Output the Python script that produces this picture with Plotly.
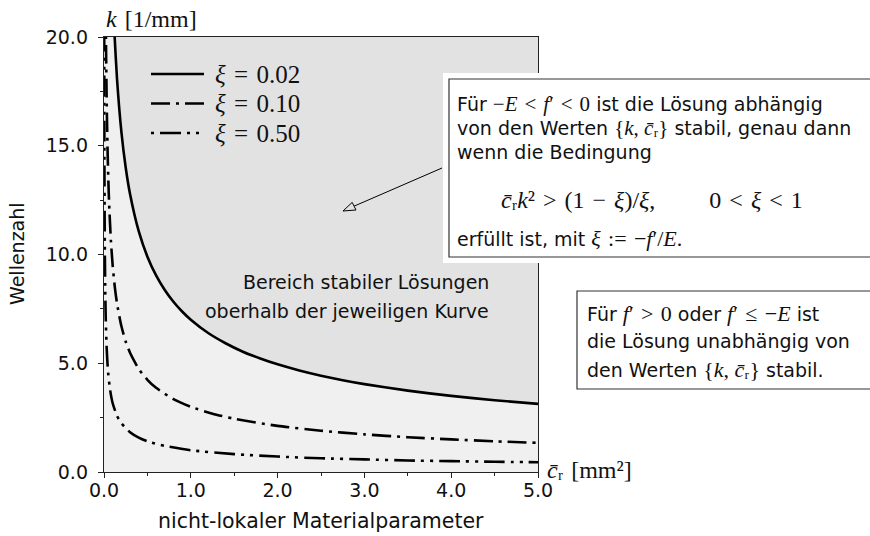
import plotly.graph_objects as go

# Stability limit k(c_r) for three values of xi
c_xi002 = [0.10, 0.12, 0.15, 0.20, 0.25, 0.30, 0.40, 0.50, 0.60, 0.70, 0.80, 0.90, 1.00,
           1.20, 1.40, 1.60, 1.80, 2.00, 2.25, 2.50, 2.75, 3.00, 3.50, 4.00, 4.50, 5.00]
k_xi002 = [22.14, 20.21, 18.07, 15.65, 14.00, 12.78, 11.07, 9.90, 9.04, 8.37, 7.83, 7.38, 7.00,
           6.39, 5.92, 5.53, 5.22, 4.95, 4.67, 4.43, 4.22, 4.04, 3.74, 3.50, 3.30, 3.13]

c_xi010 = [0.020, 0.025, 0.030, 0.040, 0.050, 0.060, 0.080, 0.100, 0.125, 0.150, 0.200, 0.250,
           0.300, 0.400, 0.500, 0.600, 0.800, 1.000, 1.250, 1.500, 2.000, 2.500, 3.000, 3.500,
           4.000, 4.500, 5.000]
k_xi010 = [21.21, 18.97, 17.32, 15.00, 13.42, 12.25, 10.61, 9.49, 8.49, 7.75, 6.71, 6.00,
           5.48, 4.74, 4.24, 3.87, 3.35, 3.00, 2.68, 2.45, 2.12, 1.90, 1.73, 1.60,
           1.50, 1.41, 1.34]

c_xi050 = [0.002, 0.0025, 0.003, 0.004, 0.005, 0.007, 0.010, 0.015, 0.020, 0.030, 0.040, 0.050,
           0.070, 0.100, 0.150, 0.200, 0.300, 0.400, 0.500, 0.700, 1.000, 1.500, 2.000, 2.500,
           3.000, 3.500, 4.000, 4.500, 5.000]
k_xi050 = [22.36, 20.00, 18.26, 15.81, 14.14, 11.95, 10.00, 8.16, 7.07, 5.77, 5.00, 4.47,
           3.78, 3.16, 2.58, 2.24, 1.83, 1.58, 1.41, 1.20, 1.00, 0.82, 0.71, 0.63,
           0.58, 0.53, 0.50, 0.47, 0.45]

series_labels = ["0.02", "0.10", "0.50"]
x_ticks = [0, 1, 2, 3, 4, 5]
y_ticks = [0, 5, 10, 15, 20]
X_MAX = 5.0
Y_MAX = 20.0

SANS = "DejaVu Sans"
SERIF = "Liberation Serif"
SANS_SIZE = 19
SERIF_SIZE = 24
SPAN_SIZE = 21
TXT = "#111111"
BG_LIGHT = "#f0f0f0"
BG_DARK = "#e2e2e2"

DASHES = ["solid", "19px,6px,3px,6px", "21px,6px,3px,6px,3px,6px"]
LEGEND_DASHES = ["solid", "19px,6px,3px,6px", "3px,6px,21px,6px,3px,6px"]

W, H = 870, 536
L, R, T, B = 104, 332, 37, 64
PW, PH = W - L - R, H - T - B

SP = "\u2004"          # wider gap around relation signs
CR = "<i>c\u0304</i>\u1d63"   # c-bar with subscript r
PRIME = "\u2032"
MINUS = "\u2212"


def fx(px):
    """pixel column -> paper x"""
    return (px - L) / PW


def fy(py):
    """pixel row -> paper y"""
    return (H - B - py) / PH


def m(s, size=SPAN_SIZE):
    """serif math span"""
    return f'<span style="font-family:{SERIF};font-size:{size}px">{s}</span>'


fig = go.Figure()

# darker region above the xi = 0.02 curve
fig.add_trace(go.Scatter(x=c_xi002, y=[min(k, Y_MAX) for k in k_xi002], mode="lines",
                         line=dict(width=0, shape="spline", smoothing=0.6),
                         hoverinfo="skip", showlegend=False))
fig.add_trace(go.Scatter(x=c_xi002, y=[Y_MAX] * len(c_xi002), mode="lines",
                         line=dict(width=0), fill="tonexty", fillcolor=BG_DARK,
                         hoverinfo="skip", showlegend=False))

for cs, ks, dash in zip([c_xi002, c_xi010, c_xi050], [k_xi002, k_xi010, k_xi050], DASHES):
    fig.add_trace(go.Scatter(x=cs, y=ks, mode="lines",
                             line=dict(color="black", width=2.6, dash=dash,
                                       shape="spline", smoothing=0.6),
                             showlegend=False))

shapes = []
annotations = []


def ann(text, x, y, size=SANS_SIZE, family=SANS, xanchor="left", align="left", angle=0):
    annotations.append(dict(text=text, x=fx(x), y=fy(y), xref="paper", yref="paper",
                            xanchor=xanchor, yanchor="middle", align=align,
                            showarrow=False, textangle=angle,
                            font=dict(family=family, size=size, color=TXT)))


# legend
for i, (lab, dash) in enumerate(zip(series_labels, LEGEND_DASHES)):
    yy = 74 + i * 29.5
    shapes.append(dict(type="line", xref="paper", yref="paper",
                       x0=fx(151), x1=fx(204), y0=fy(yy), y1=fy(yy),
                       line=dict(color="black", width=2.6, dash=dash)))
    ann(f"<i>ξ</i>{SP}={SP}{lab}", 213, yy, size=25, family=SERIF)

# axis labels
ann(f"<i>k</i>{SP}[1/mm]", 104, 19, size=SERIF_SIZE, family=SERIF)
ann(f"{CR}{SP}[mm\u00b2]", 545, 470, size=SERIF_SIZE, family=SERIF)
ann("Wellenzahl", 17, 254, xanchor="center", align="center", angle=-90)
ann("nicht-lokaler Materialparameter", 321, 521, size=20.5, xanchor="center", align="center")

# region text
ann("Bereich stabiler Lösungen", 491, 282, xanchor="right", align="right")
ann("oberhalb der jeweiligen Kurve", 491, 311, xanchor="right", align="right")

# first text box with white margin
shapes.append(dict(type="rect", xref="paper", yref="paper", x0=fx(443), x1=fx(880),
                   y0=fy(263), y1=fy(73), fillcolor="white", line=dict(width=0)))
shapes.append(dict(type="rect", xref="paper", yref="paper", x0=fx(449), x1=fx(880),
                   y0=fy(257), y1=fy(79), fillcolor="white",
                   line=dict(color="#333333", width=1.2)))
ann("Für " + m(f"{MINUS}<i>E</i>{SP}&lt;{SP}<i>f</i>{PRIME}{SP}&lt;{SP}0")
    + " ist die Lösung abhängig", 455, 104)
ann("von den Werten " + m(f"{{<i>k</i>, {CR}}}") + " stabil, genau dann", 455, 128)
ann("wenn die Bedingung", 455, 152)
ann(m(f"{CR}<i>k</i>\u00b2{SP}&gt;{SP}(1{SP}{MINUS}{SP}<i>ξ</i>)/<i>ξ</i>,"
      f"\u2003\u2003 0{SP}&lt;{SP}<i>ξ</i>{SP}&lt;{SP}1", size=SERIF_SIZE),
    652, 200, size=SERIF_SIZE, family=SERIF, xanchor="center", align="center")
ann("erfüllt ist, mit " + m(f"<i>ξ</i>{SP}:={SP}{MINUS}<i>f</i>{PRIME}/<i>E</i>.", size=22), 455, 238)

# second text box
shapes.append(dict(type="rect", xref="paper", yref="paper", x0=fx(577), x1=fx(880),
                   y0=fy(389), y1=fy(291), fillcolor="white",
                   line=dict(color="#333333", width=1.2)))
ann("Für " + m(f"<i>f</i>{PRIME}{SP}&gt;{SP}0", size=22) + " oder "
    + m(f"<i>f</i>{PRIME}{SP}\u2264{SP}{MINUS}<i>E</i>", size=22) + " ist", 585, 313)
ann("die Lösung unabhängig von", 585, 341)
ann("den Werten " + m(f"{{<i>k</i>, {CR}}}", size=22) + " stabil.", 585, 369)

# pointer arrow into the stable region
tail = (442, 168)
tip = (343, 211)
base = (354, 206.2)
shapes.append(dict(type="line", xref="paper", yref="paper",
                   x0=fx(tail[0]), y0=fy(tail[1]), x1=fx(base[0]), y1=fy(base[1]),
                   line=dict(color="black", width=1)))
head = [(tip[0], tip[1]), (356.0, 210.0), (352.2, 202.4)]
path = "M " + " L ".join(f"{fx(a):.5f},{fy(b):.5f}" for a, b in head) + " Z"
shapes.append(dict(type="path", xref="paper", yref="paper", path=path,
                   fillcolor=BG_DARK, line=dict(color="black", width=1)))

axis_common = dict(showgrid=False, zeroline=False, showline=True, mirror=True,
                   linecolor="#222222", linewidth=1.4, ticks="outside", tickcolor="#222222",
                   tickfont=dict(family=SANS, size=SANS_SIZE, color=TXT), tickformat=".1f")

fig.update_layout(
    width=W, height=H,
    margin=dict(l=L, r=R, t=T, b=B, pad=0),
    paper_bgcolor="white", plot_bgcolor=BG_LIGHT,
    shapes=shapes, annotations=annotations,
    xaxis=dict(range=[0, X_MAX], tickvals=x_ticks, ticklen=5, tickwidth=1.2,
               ticklabelstandoff=-4,
               minor=dict(dtick=0.5, tick0=0, ticks="outside", ticklen=3, tickcolor="#222222"),
               **axis_common),
    yaxis=dict(range=[0, Y_MAX], tickvals=y_ticks, ticklen=5, tickwidth=1.2,
               ticklabelstandoff=6,
               minor=dict(dtick=2.5, tick0=0, ticks="outside", ticklen=3, tickcolor="#222222"),
               **axis_common),
)

fig.write_html("out.html")
